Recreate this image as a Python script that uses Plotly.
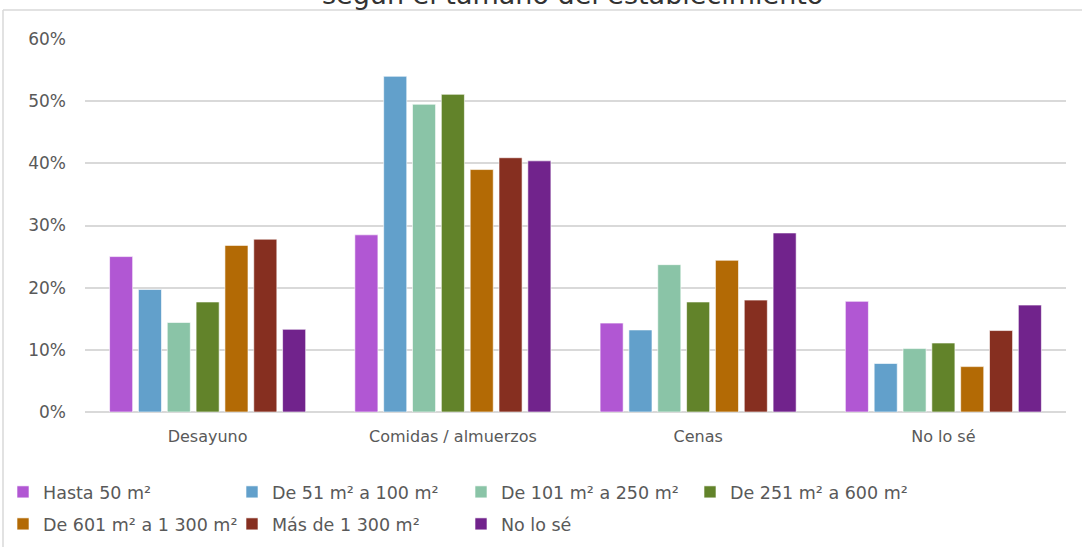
import plotly.graph_objects as go

categories = ["Desayuno", "Comidas / almuerzos", "Cenas", "No lo sé"]
series_names = ["Hasta 50 m²", "De 51 m² a 100 m²", "De 101 m² a 250 m²", "De 251 m² a 600 m²",
                "De 601 m² a 1 300 m²", "Más de 1 300 m²", "No lo sé"]
hasta_50 = [0.250, 0.285, 0.143, 0.178]
de_51_100 = [0.197, 0.540, 0.132, 0.078]
de_101_250 = [0.144, 0.495, 0.237, 0.102]
de_251_600 = [0.177, 0.511, 0.177, 0.111]
de_601_1300 = [0.268, 0.390, 0.244, 0.073]
mas_1300 = [0.278, 0.409, 0.180, 0.131]
no_lo_se = [0.133, 0.404, 0.288, 0.172]
series_values = [hasta_50, de_51_100, de_101_250, de_251_600, de_601_1300, mas_1300, no_lo_se]
colors = ["#B157D3", "#62A0CB", "#8AC4A7", "#62832A", "#B36A05", "#862F20", "#71238C"]
legend_rows = ["legend", "legend", "legend", "legend", "legend2", "legend2", "legend2"]
tick_vals = [0, 0.1, 0.2, 0.3, 0.4, 0.5, 0.6]
tick_text = ["0%", "10%", "20%", "30%", "40%", "50%", "60%"]
title_text = "según el tamaño del establecimiento"

FONT = "DejaVu Sans"
W, H = 1082, 547
ML, MR, MT, MB = 85, 16, 39, 135
pw = W - ML - MR
ph = H - MT - MB


def px_x(x):
    return (x - ML) / pw


def px_y(y):
    return (H - MB - y) / ph


fig = go.Figure()
for name, vals, col, lg in zip(series_names, series_values, colors, legend_rows):
    fig.add_trace(go.Bar(
        x=categories, y=vals, name=name, legend=lg,
        marker=dict(color=col, line=dict(color="rgba(255,255,255,0.6)", width=1)),
    ))

# chart frame (top and left border lines)
fig.add_shape(type="line", xref="paper", yref="paper", x0=px_x(3), x1=1.2, y0=px_y(10), y1=px_y(10),
              line=dict(color="#d9d9d9", width=1.5), layer="below")
fig.add_shape(type="line", xref="paper", yref="paper", x0=px_x(3), x1=px_x(3), y0=px_y(10), y1=-0.5,
              line=dict(color="#d9d9d9", width=1.5), layer="below")

# title (partly cut at the top, as in the original)
fig.add_annotation(text=title_text, xref="paper", yref="paper", x=px_x(572), y=px_y(-5.5),
                   xanchor="center", yanchor="middle", showarrow=False,
                   font=dict(family=FONT, size=27, color="#333333"))

leg_common = dict(orientation="h", xanchor="left", yanchor="middle",
                  entrywidth=184, entrywidthmode="pixels", traceorder="normal",
                  font=dict(family=FONT, size=17.5, color="#595959"), itemwidth=30,
                  bgcolor="rgba(0,0,0,0)")

fig.update_layout(
    width=W, height=H,
    margin=dict(l=ML, r=MR, t=MT, b=MB, autoexpand=False),
    paper_bgcolor="white", plot_bgcolor="white",
    barmode="group", bargap=0.177, bargroupgap=0.2,
    font=dict(family=FONT, color="#595959", size=16),
    showlegend=True,
    legend=dict(x=px_x(3), y=px_y(492), **leg_common),
    legend2=dict(x=px_x(3), y=px_y(524), **leg_common),
    xaxis=dict(showgrid=False, showline=False, ticks="", ticklabelstandoff=13,
               tickfont=dict(family=FONT, size=16, color="#595959")),
    yaxis=dict(range=[0, 0.6], tickvals=tick_vals, ticktext=tick_text,
               showgrid=True, gridcolor="#d9d9d9", gridwidth=1.5,
               zeroline=True, zerolinecolor="#d9d9d9", zerolinewidth=1.5,
               showline=False, ticks="", ticklabelstandoff=18,
               tickfont=dict(family=FONT, size=17, color="#595959")),
)

fig.write_html("out.html", config={"displayModeBar": False},
               post_script="document.body.style.margin='0';document.body.style.overflow='hidden';")
